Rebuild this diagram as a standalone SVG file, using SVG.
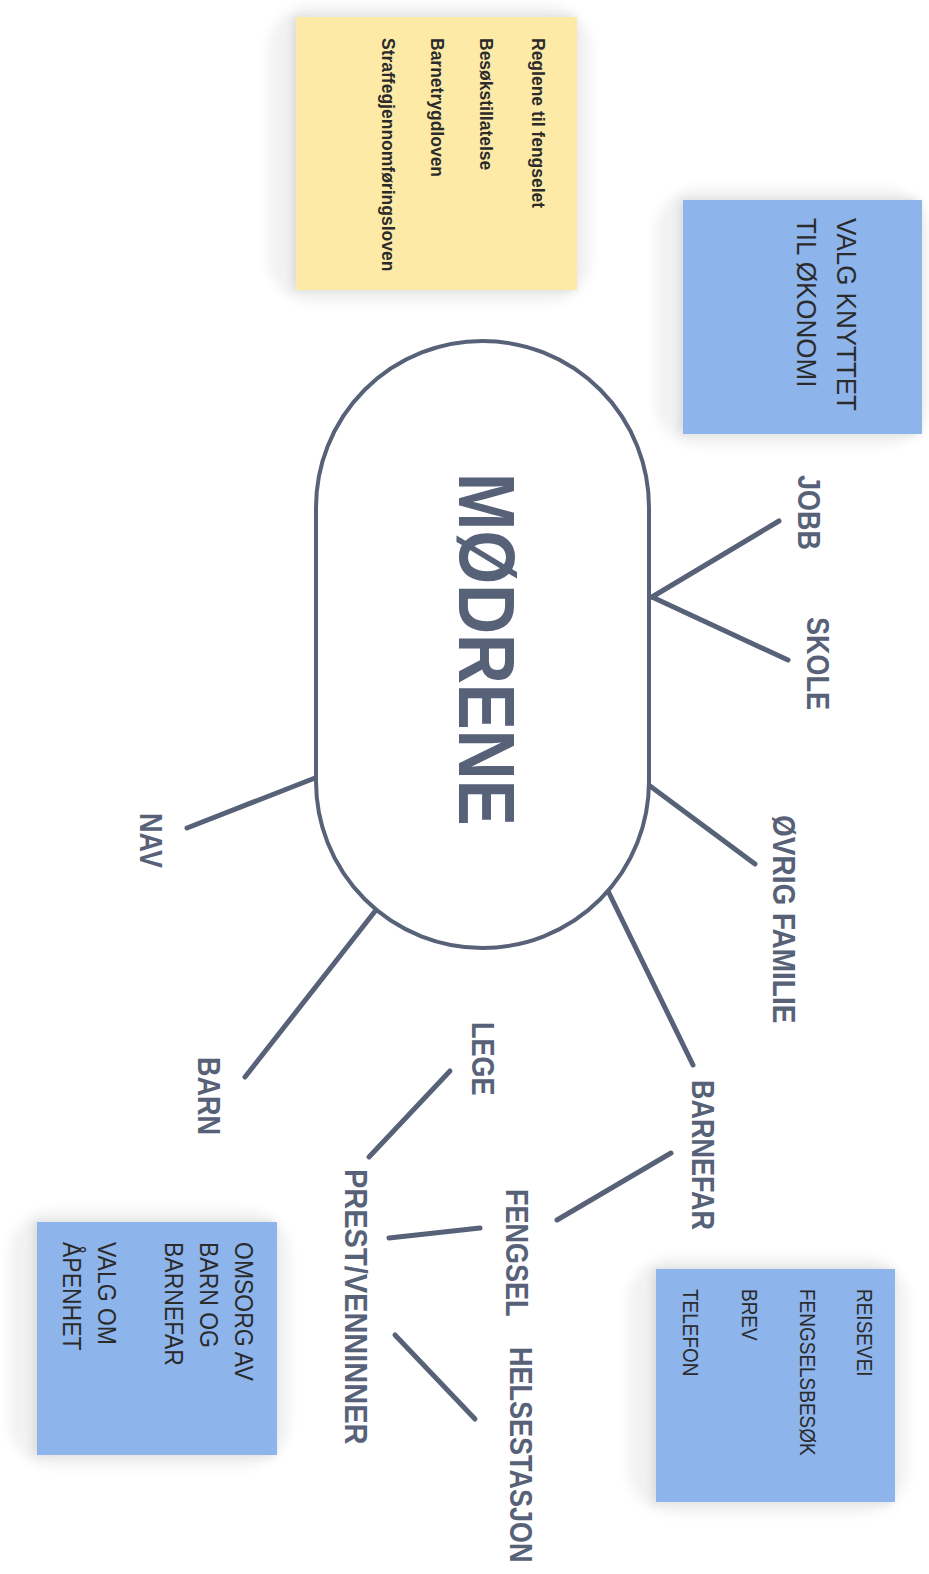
<svg xmlns="http://www.w3.org/2000/svg" width="929" height="1574" viewBox="0 0 929 1574">
<defs>
<filter id="halo" x="-30%" y="-30%" width="160%" height="160%">
<feGaussianBlur stdDeviation="6"/>
</filter>
<filter id="sh" x="-30%" y="-30%" width="160%" height="160%">
<feDropShadow dx="-3" dy="0" stdDeviation="4" flood-color="#000" flood-opacity="0.10"/>
</filter>
<style>
.lbl{font-family:"Liberation Sans",Arial,sans-serif;font-weight:bold;font-size:27px;fill:#576279}
.big{font-family:"Liberation Sans",Arial,sans-serif;font-weight:bold;font-size:69px;fill:#576279}
.note{font-family:"Liberation Sans",Arial,sans-serif;fill:#2b2b2b}
.yt{font-family:"Liberation Sans",Arial,sans-serif;font-weight:bold;font-size:17.5px;fill:#2b2b2b}
.ln{stroke:#576279;stroke-width:5;stroke-linecap:round;fill:none}
.blue{fill:#8DB4EB}
.yellow{fill:#FEEAA7}
.halo{fill:#000;opacity:0.05}
</style>
</defs>
<rect width="929" height="1574" fill="#ffffff"/>

<g id="connectors">
<line class="ln" x1="652" y1="597" x2="779" y2="521"/>
<line class="ln" x1="652" y1="597" x2="788" y2="660"/>
<line class="ln" x1="650" y1="786" x2="755" y2="864"/>
<line class="ln" x1="608" y1="891" x2="693" y2="1065"/>
<line class="ln" x1="671" y1="1153" x2="557" y2="1220"/>
<line class="ln" x1="315" y1="778" x2="187" y2="828"/>
<line class="ln" x1="376" y1="910" x2="245" y2="1077"/>
<line class="ln" x1="450" y1="1071" x2="369" y2="1157"/>
<line class="ln" x1="480" y1="1228" x2="389" y2="1238"/>
<line class="ln" x1="395" y1="1335" x2="475" y2="1419"/>
</g>

<g id="modrene">
<rect x="316" y="341" width="333" height="607" rx="166.5" ry="166.5" fill="#ffffff" stroke="#576279" stroke-width="4"/>
<text class="big" transform="translate(459,473) rotate(90) scale(1,1.16)">MØDRENE</text>
</g>

<g id="jobb"><text class="lbl" transform="translate(798,475) rotate(90) scale(1,1.15)">JOBB</text></g>
<g id="skole"><text class="lbl" transform="translate(807,617) rotate(90) scale(1,1.15)">SKOLE</text></g>
<g id="ovrig-familie"><text class="lbl" style="font-size:28px" transform="translate(773,815) rotate(90) scale(1,1.12)">ØVRIG FAMILIE</text></g>
<g id="barnefar"><text class="lbl" transform="translate(692,1080) rotate(90) scale(1,1.15)">BARNEFAR</text></g>
<g id="nav"><text class="lbl" transform="translate(140,813) rotate(90) scale(1,1.15)">NAV</text></g>
<g id="barn"><text class="lbl" transform="translate(198,1057) rotate(90) scale(1,1.15)">BARN</text></g>
<g id="lege"><text class="lbl" transform="translate(472,1022) rotate(90) scale(1,1.15)">LEGE</text></g>
<g id="prest-venninner"><text class="lbl" style="font-size:29px" transform="translate(345,1169) rotate(90) scale(1,1.08)">PREST/VENNINNER</text></g>
<g id="fengsel"><text class="lbl" transform="translate(506,1189) rotate(90) scale(1,1.15)">FENGSEL</text></g>
<g id="helsestasjon"><text class="lbl" transform="translate(510,1347) rotate(90) scale(1,1.15)">HELSESTASJON</text></g>

<g id="note-lover">
<rect class="halo" x="268" y="5" width="323" height="298" rx="45" filter="url(#halo)"/>
<rect class="yellow" x="296" y="17" width="281" height="273" filter="url(#sh)"/>
<text class="yt" transform="translate(532,38) rotate(90)">Reglene til fengselet</text>
<text class="yt" transform="translate(480,38) rotate(90)">Besøkstillatelse</text>
<text class="yt" transform="translate(431,38) rotate(90)">Barnetrygdloven</text>
<text class="yt" transform="translate(382,38) rotate(90)">Straffegjennomføringsloven</text>
</g>

<g id="note-okonomi">
<rect class="halo" x="655" y="188" width="274" height="258" rx="45" filter="url(#halo)"/>
<rect class="blue" x="683" y="200" width="239" height="234" filter="url(#sh)"/>
<text class="note" font-size="26" transform="translate(837,218) rotate(90) scale(1,1.05)">VALG KNYTTET</text>
<text class="note" font-size="26" transform="translate(797,218) rotate(90) scale(1,1.05)">TIL ØKONOMI</text>
</g>

<g id="note-kontakt">
<rect class="halo" x="628" y="1257" width="280" height="257" rx="45" filter="url(#halo)"/>
<rect class="blue" x="656" y="1269" width="239" height="233" filter="url(#sh)"/>
<text class="note" font-size="19" transform="translate(857,1289) rotate(90) scale(1,1.2)">REISEVEI</text>
<text class="note" font-size="19" transform="translate(800,1289) rotate(90) scale(1,1.2)">FENGSELSBESØK</text>
<text class="note" font-size="19" transform="translate(742,1289) rotate(90) scale(1,1.2)">BREV</text>
<text class="note" font-size="19" transform="translate(683,1289) rotate(90) scale(1,1.2)">TELEFON</text>
</g>

<g id="note-omsorg">
<rect class="halo" x="9" y="1210" width="281" height="257" rx="45" filter="url(#halo)"/>
<rect class="blue" x="37" y="1222" width="240" height="233" filter="url(#sh)"/>
<text class="note" font-size="23" transform="translate(235,1242) rotate(90) scale(1,1.15)">OMSORG AV</text>
<text class="note" font-size="23" transform="translate(200,1242) rotate(90) scale(1,1.15)">BARN OG</text>
<text class="note" font-size="23" transform="translate(165,1242) rotate(90) scale(1,1.15)">BARNEFAR</text>
<text class="note" font-size="23" transform="translate(98,1242) rotate(90) scale(1,1.15)">VALG OM</text>
<text class="note" font-size="23" transform="translate(63,1242) rotate(90) scale(1,1.15)">ÅPENHET</text>
</g>
</svg>
